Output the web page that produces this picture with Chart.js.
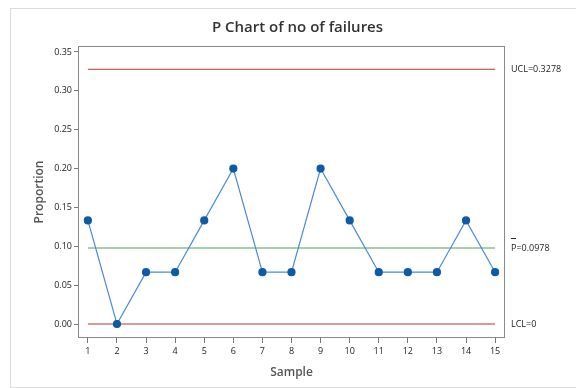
<!DOCTYPE html>
<html>
<head>
<meta charset="utf-8">
<script src="https://cdn.jsdelivr.net/npm/chart.js@4/dist/chart.umd.min.js"></script>
<style>
  body { margin: 0; background: #fff; }
  #wrap { position: absolute; left: 0; top: 0; width: 576px; height: 388px; }
  #frame { position: absolute; left: 10px; top: 8px; width: 580px; height: 378px; border: 1px solid #dcdcdc; }
</style>
</head>
<body>
<div id="frame"></div>
<div id="wrap"><canvas id="myChart" width="576" height="388"></canvas></div>
<script>
// sample numbers and proportions
const samples = [1, 2, 3, 4, 5, 6, 7, 8, 9, 10, 11, 12, 13, 14, 15];
const proportions = [0.1333, 0, 0.0667, 0.0667, 0.1333, 0.2, 0.0667, 0.0667, 0.2, 0.1333, 0.0667, 0.0667, 0.0667, 0.1333, 0.0667];
const ucl = 0.3278;
const centerLine = 0.0978;
const lcl = 0;
const yTicks = [0, 0.05, 0.1, 0.15, 0.2, 0.25, 0.3, 0.35];
const chartTitle = "P Chart of no of failures";

const limitLine = (value) => [
  { x: samples[0], y: value },
  { x: samples[samples.length - 1], y: value },
];

const sideLabels = {
  id: "sideLabels",
  afterDraw(chart) {
    const ctx = chart.ctx;
    const area = chart.chartArea;
    const yScale = chart.scales.y;
    ctx.save();
    ctx.strokeStyle = "#8a8a8a";
    ctx.lineWidth = 1;
    ctx.strokeRect(area.left + 0.5, area.top + 0.5, area.right - area.left - 1, area.bottom - area.top - 1);

    // title, centred over the plot box
    ctx.fillStyle = "#333";
    ctx.font = "600 15px 'Open Sans'";
    ctx.textAlign = "center";
    ctx.textBaseline = "middle";
    ctx.fillText(chartTitle, (area.left + area.right) / 2 + 6, 28);

    ctx.textAlign = "left";
    ctx.fillStyle = "#222";
    ctx.font = "9px 'Open Sans'";
    const x = area.right + 6;
    ctx.fillText("UCL=0.3278", x, yScale.getPixelForValue(ucl));
    const yc = yScale.getPixelForValue(centerLine);
    ctx.fillText("P=0.0978", x, yc);
    ctx.strokeStyle = "#222";
    ctx.beginPath();
    ctx.moveTo(x, yc - 9.5);
    ctx.lineTo(x + 5, yc - 9.5);
    ctx.stroke();
    ctx.fillText("LCL=0", x, yScale.getPixelForValue(lcl));
    ctx.restore();
  },
};

new Chart("myChart", {
  type: "line",
  data: {
    datasets: [
      {
        data: samples.map((s, i) => ({ x: s, y: proportions[i] })),
        borderColor: "#4a8ad4",
        borderWidth: 1.2,
        pointBackgroundColor: "#0d5aa7",
        pointBorderColor: "#0d5aa7",
        pointRadius: 3.5,
        fill: false,
        order: 0,
      },
      {
        data: limitLine(ucl),
        borderColor: "#c23030",
        borderWidth: 1.2,
        pointRadius: 0,
        order: 1,
      },
      {
        data: limitLine(centerLine),
        borderColor: "#4aa64a",
        borderWidth: 1.2,
        pointRadius: 0,
        order: 1,
      },
      {
        data: limitLine(lcl),
        borderColor: "#c23030",
        borderWidth: 1.2,
        pointRadius: 0,
        order: 1,
      },
    ],
  },
  options: {
    responsive: false,
    animation: false,
    layout: { padding: { left: 10, right: 71, top: 46, bottom: 0 } },
    plugins: {
      legend: { display: false },
      tooltip: { enabled: false },
      title: { display: false },
    },
    scales: {
      x: {
        type: "linear",
        min: 0.66,
        max: 15.34,
        afterBuildTicks: (scale) => {
          scale.ticks = samples.map((s) => ({ value: s }));
        },
        afterFit: (scale) => {
          scale.height = 50;
        },
        grid: { drawOnChartArea: false, tickLength: 5, color: "#777" },
        border: { display: false },
        ticks: { color: "#222", font: { family: "'Open Sans'", size: 9 }, padding: 3, maxRotation: 0 },
        title: {
          display: true,
          text: "Sample",
          color: "#555",
          font: { family: "'Open Sans'", size: 12, weight: "600" },
          padding: { top: 4, bottom: 8 },
        },
      },
      y: {
        min: -0.018,
        max: 0.3577,
        afterBuildTicks: (scale) => {
          scale.ticks = yTicks.map((v) => ({ value: v }));
        },
        afterFit: (scale) => {
          scale.width = 68;
        },
        grid: { drawOnChartArea: false, tickLength: 4, color: "#777" },
        border: { display: false },
        ticks: {
          color: "#222",
          font: { family: "'Open Sans'", size: 9 },
          padding: 2,
          callback: (v) => v.toFixed(2),
        },
        title: {
          display: true,
          text: "Proportion",
          color: "#555",
          font: { family: "'Open Sans'", size: 12, weight: "600" },
          padding: { top: 22, bottom: 0 },
        },
      },
    },
  },
  plugins: [sideLabels],
});
</script>
</body>
</html>
